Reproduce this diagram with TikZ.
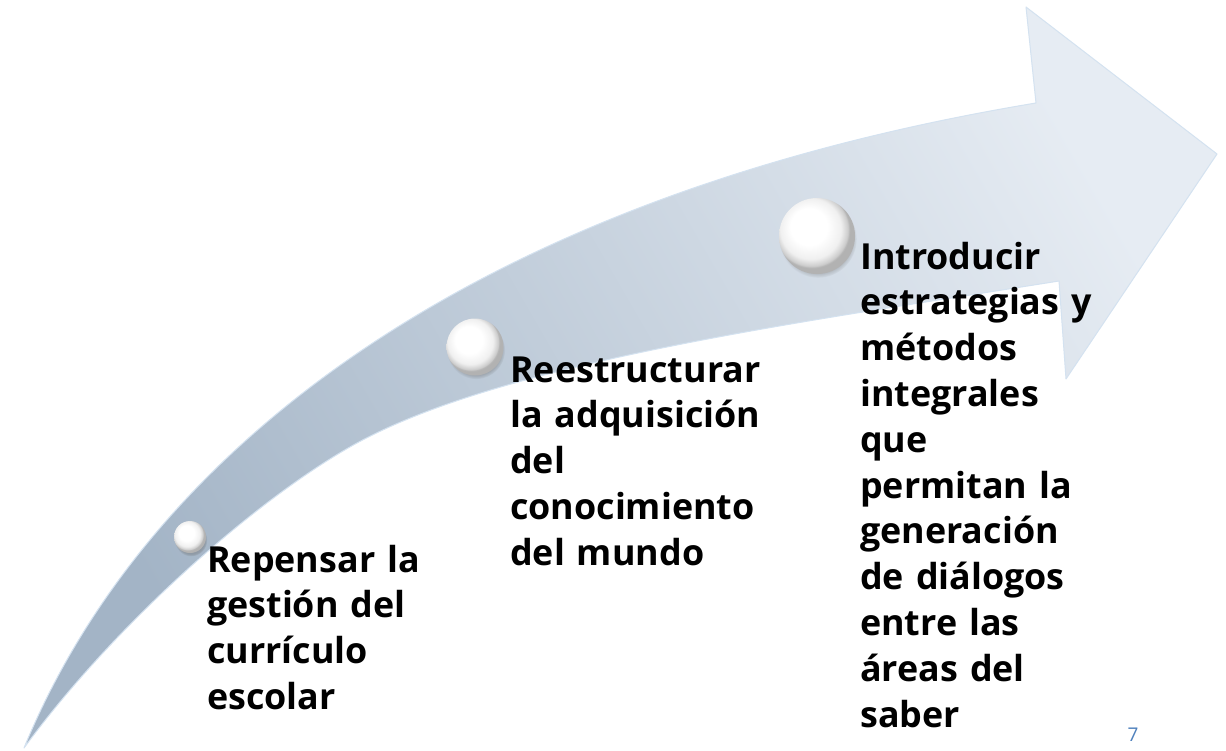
\documentclass[tikz,border=0pt]{standalone}
\usepackage{fontspec}
\setmainfont{Open Sans}
\usetikzlibrary{shadows}
\definecolor{arrowdark}{RGB}{163,180,198}
\definecolor{arrowmid}{RGB}{200,212,224}
\definecolor{arrowlight}{RGB}{230,236,243}
\definecolor{arrowrim}{RGB}{212,226,240}
\definecolor{pagenum}{RGB}{79,129,189}
\pgfdeclareradialshading{pearl}{\pgfpoint{-7bp}{8bp}}{color(0bp)=(white); color(12bp)=(white); color(20bp)=(black!6); color(24bp)=(black!20); color(25bp)=(black!30); color(50bp)=(black!30)}
\tikzset{
  arrowbody/.style={top color=arrowlight, middle color=arrowmid, bottom color=arrowdark, shading angle=-60, draw=arrowrim, line width=1bp, line join=round},
  pearl/.style={circle, inner sep=0pt, shade, shading=pearl, circular drop shadow={shadow xshift=1bp, shadow yshift=-3bp, shadow scale=1.02, opacity=.35, fill=black!60}},
  steptext/.style={anchor=base west, text width=270bp, align=left, inner sep=0pt, font=\bfseries\fontsize{36}{46}\selectfont}
}

\begin{document}
\begin{tikzpicture}[x=1bp,y=-1bp]
\useasboundingbox (0,0) rectangle (1226,751);
\fill[white] (0,0) rectangle (1226,751);
% curved arrow
\coordinate (tail) at (24,748);
\coordinate (notchup) at (1036,103);
\coordinate (headtop) at (1026,7);
\coordinate (headtip) at (1217,154);
\coordinate (headbot) at (1066,379);
\coordinate (notchlow) at (1059,281);
\coordinate (lowmid) at (357,443);
\shade[arrowbody] (tail) .. controls (140,465) and (450,200) .. (notchup)
  -- (headtop) -- (headtip) -- (headbot) -- (notchlow)
  .. controls (809,321) and (507,361) .. (lowmid)
  .. controls (257,498) and (114,625) .. (tail) -- cycle;
% pearls
\node[pearl, minimum size=32bp] (b1) at (190,537) {};
\node[pearl, minimum size=57bp] (b2) at (475,347) {};
\node[pearl, minimum size=76bp] (b3) at (817,236) {};
% texts
\node[steptext] (rep) at (207,572) {Repensar la\\gestión del\\currículo\\escolar};
\node[steptext] (ree) at (510,382) {Reestructurar\\la adquisición\\del\\conocimiento\\del mundo};
\node[steptext] (intro) at (860,269) {Introducir\\estrategias y\\métodos\\integrales\\que\\permitan la\\generación\\de diálogos\\entre las\\áreas del\\saber};
\node[font=\fontsize{19}{22}\selectfont, text=pagenum, inner sep=0pt] (pg) at (1133,735) {7};
\end{tikzpicture}
\end{document}
